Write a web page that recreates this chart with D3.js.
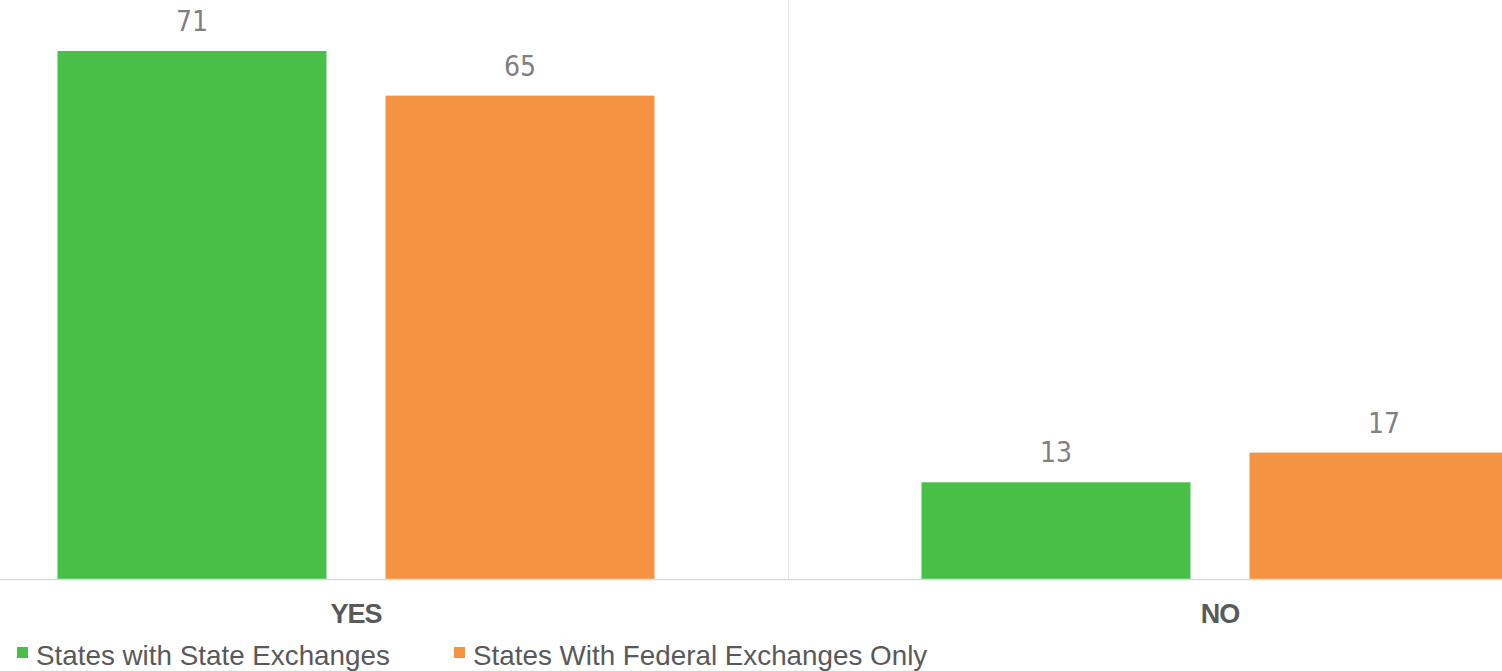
<!DOCTYPE html>
<html>
<head>
<meta charset="utf-8">
<script src="https://cdn.jsdelivr.net/npm/d3@7"></script>
<style>
  body { margin: 0; background: #fff; }
  svg { display: block; }
</style>
</head>
<body>
<svg id="chart" width="1502" height="671"></svg>
<script>
// data
const categories = ['YES', 'NO'];
const seriesNames = ['States with State Exchanges', 'States With Federal Exchanges Only'];
const stateValues = [71, 13];
const federalValues = [65, 17];
const colors = ['#48c047', '#f49341'];

const W = 1502, H = 671;
const baseY = 579;

const svg = d3.select('#chart');

// the picture is cropped: each group band is 864px wide, YES band starts off-screen
const x0 = d3.scaleBand().domain(categories).range([-76, 1652]);
const x1 = d3.scaleBand().domain(seriesNames).range([0, x0.bandwidth()])
    .paddingInner(0.18).paddingOuter(0.407);
const y = d3.scaleLinear().domain([0, 71]).range([baseY, 51]);

const rows = categories.map((c, i) => ({
    cat: c,
    vals: [
        { name: seriesNames[0], v: stateValues[i], color: colors[0] },
        { name: seriesNames[1], v: federalValues[i], color: colors[1] }
    ]
}));

// divider between groups
svg.append('line')
    .attr('x1', x0('NO') + 0.5).attr('x2', x0('NO') + 0.5)
    .attr('y1', 0).attr('y2', baseY)
    .attr('stroke', '#e3e3e3').attr('stroke-width', 1);

const g = svg.selectAll('g.grp').data(rows).enter().append('g')
    .attr('class', 'grp')
    .attr('transform', d => 'translate(' + x0(d.cat) + ',0)');

g.selectAll('rect').data(d => d.vals).enter().append('rect')
    .attr('x', d => x1(d.name))
    .attr('y', d => y(d.v))
    .attr('width', x1.bandwidth())
    .attr('height', d => baseY - y(d.v))
    .attr('fill', d => d.color);

g.selectAll('text.val').data(d => d.vals).enter().append('text')
    .attr('class', 'val')
    .attr('x', d => x1(d.name) + x1.bandwidth() / 2)
    .attr('y', d => y(d.v) - 20)
    .attr('text-anchor', 'middle')
    .attr('font-family', '"Liberation Sans Narrow", "DejaVu Sans Condensed", sans-serif')
    .attr('font-size', 28)
    .attr('fill', '#808080')
    .text(d => d.v);

// baseline
svg.append('line')
    .attr('x1', 0).attr('x2', W)
    .attr('y1', baseY + 0.5).attr('y2', baseY + 0.5)
    .attr('stroke', '#d9d9d9').attr('stroke-width', 1.5);

// category labels
svg.selectAll('text.cat').data(categories).enter().append('text')
    .attr('class', 'cat')
    .attr('x', d => x0(d) + x0.bandwidth() / 2)
    .attr('y', 623)
    .attr('text-anchor', 'middle')
    .attr('font-family', '"Liberation Sans", Arial, sans-serif')
    .attr('font-weight', 'bold')
    .attr('font-size', 27)
    .attr('letter-spacing', -1)
    .attr('fill', '#595959')
    .text(d => d);

// legend
const legendX = [17, 454];
const leg = svg.selectAll('g.leg').data(seriesNames).enter().append('g')
    .attr('class', 'leg')
    .attr('transform', (d, i) => 'translate(' + legendX[i] + ',0)');
leg.append('rect')
    .attr('x', 0).attr('y', 647)
    .attr('width', 11).attr('height', 11)
    .attr('fill', (d, i) => colors[i]);
leg.append('text')
    .attr('x', 19).attr('y', 665)
    .attr('font-family', '"Liberation Sans", Arial, sans-serif')
    .attr('font-size', 27.8)
    .attr('fill', '#595959')
    .text(d => d);
</script>
</body>
</html>
